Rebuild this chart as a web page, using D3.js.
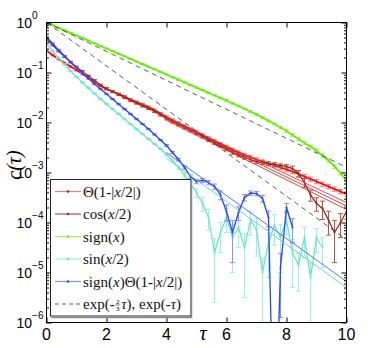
<!DOCTYPE html>
<html>
<head>
<meta charset="utf-8">
<script src="https://cdn.jsdelivr.net/npm/d3@7"></script>
<style>
body { margin: 0; background: #fff; }
svg { display: block; }
</style>
</head>
<body>
<div id="chart"></div>
<script>
// lag times
const tau = [0,0.2,0.4,0.6,0.8,1,1.2,1.4,1.6,1.8,
             2,2.2,2.4,2.6,2.8,3,3.2,3.4,3.6,3.8,
             4,4.2,4.4,4.6,4.8,5,5.2,5.4,5.6,5.8,
             6,6.2,6.4,6.6,6.8,7,7.2,7.4,7.6,7.8,
             8,8.2,8.4,8.6,8.8,9,9.2,9.4,9.6,9.8,10];

// Θ(1-|x/2|)
const thetaVals = [0.275,0.224,0.186,0.155,0.132,0.112,0.0933,0.0776,0.0646,0.0537,
                   0.0468,0.0417,0.0372,0.0331,0.0288,0.0257,0.0229,0.0204,0.0178,0.0151,
                   0.0129,0.0112,0.00977,0.00851,0.00741,0.00646,0.00562,0.00490,0.00427,0.00372,
                   0.00324,0.00282,0.00251,0.00224,0.00204,0.00182,0.00166,0.00151,0.00138,0.00126,
                   0.00115,0.00105,0.000933,0.000832,0.000741,0.000661,0.000589,0.000525,0.000468,0.000417,
                   0.000372];
const thetaErr = [0.04,0.04,0.04,0.04,0.04,0.04,0.04,0.04,0.04,0.04,
                  0.05,0.05,0.05,0.05,0.05,0.05,0.05,0.05,0.05,0.05,
                  0.06,0.06,0.06,0.06,0.06,0.06,0.06,0.06,0.06,0.06,
                  0.08,0.08,0.08,0.08,0.08,0.08,0.08,0.08,0.08,0.08,
                  0.1,0.1,0.1,0.1,0.1,0.1,0.1,0.1,0.1,0.1,0.1];

// cos(x/2)
const cosVals = [0.468,0.355,0.269,0.209,0.162,0.129,0.105,0.0851,0.0692,0.0562,
                 0.0479,0.0417,0.0363,0.0316,0.0275,0.0245,0.0214,0.0191,0.0166,0.0141,
                 0.0120,0.0105,0.00912,0.00794,0.00692,0.00603,0.00525,0.00447,0.00389,0.00339,
                 0.00295,0.00251,0.00224,0.00200,0.00182,0.00166,0.00158,0.00151,0.00145,0.00138,
                 0.00132,0.00120,0.000955,0.000631,0.000355,0.000240,0.000191,0.000112,0.0000631,0.0001,
                 0.000166];
const cosErr = [0.04,0.04,0.04,0.04,0.04,0.04,0.04,0.04,0.04,0.04,
                0.05,0.05,0.05,0.05,0.05,0.05,0.05,0.05,0.05,0.05,
                0.06,0.06,0.06,0.06,0.06,0.06,0.06,0.06,0.06,0.06,
                0.08,0.08,0.08,0.08,0.08,0.08,0.08,0.08,0.08,0.08,
                0.1,0.12,0.15,0.2,0.25,0.3,0.4,0.5,0.75,0.5,0.3];

// sign(x)
const signVals = [1.0,0.887,0.787,0.698,0.619,0.550,0.488,0.433,0.384,0.340,
                  0.302,0.268,0.238,0.211,0.187,0.166,0.147,0.131,0.116,0.103,
                  0.0912,0.0809,0.0718,0.0637,0.0565,0.0501,0.0445,0.0394,0.0350,0.0310,
                  0.0275,0.0243,0.0214,0.0188,0.0166,0.0145,0.0126,0.0108,0.00933,0.00794,
                  0.00676,0.00562,0.00468,0.00389,0.00331,0.00275,0.00219,0.00174,0.00132,0.000977,
                  0.000692];
const signErr = [0.02,0.02,0.02,0.02,0.02,0.02,0.02,0.02,0.02,0.02,
                 0.02,0.02,0.02,0.02,0.02,0.02,0.02,0.02,0.02,0.02,
                 0.03,0.03,0.03,0.03,0.03,0.03,0.03,0.03,0.03,0.03,
                 0.04,0.04,0.04,0.04,0.04,0.04,0.04,0.04,0.04,0.04,
                 0.06,0.06,0.06,0.06,0.06,0.08,0.08,0.08,0.08,0.08,0.08];

// sin(x/2)
const sinVals = [0.380,0.269,0.195,0.145,0.107,0.0813,0.0631,0.0490,0.0380,0.0295,
                 0.0234,0.0186,0.0148,0.0117,0.00933,0.00741,0.00589,0.00468,0.00372,0.00295,
                 0.00229,0.00174,0.00126,0.000891,0.000603,0.000398,0.000240,0.000126,0.0000251,0.0000631,
                 0.000126,0.0000501,0.0000794,0.0000316,0.000112,0.0000708,0.00001,0.0000398,0.0000891,0.0000501,
                 0.000112,0.0000251,0.0000141,0.0000501,0.00000794,0.0000501,0.0000316,null,null,null,
                 null];
const sinErr = [0.03,0.03,0.03,0.03,0.03,0.03,0.03,0.03,0.03,0.03,
                0.03,0.03,0.03,0.03,0.03,0.03,0.03,0.03,0.03,0.03,
                0.05,0.06,0.08,0.1,0.15,0.2,0.3,0.45,0.9,0.6,
                0.5,0.8,0.6,0.9,0.5,0.7,0.9,0.8,0.6,0.8,
                0.5,0.8,0.7,0.6,0.9,0.5,0.6,0,0,0,0];

// sign(x)Θ(1-|x/2|)   (1e-9 = crosses zero)
const mixVals = [0.513,0.380,0.282,0.214,0.162,0.126,0.0977,0.0759,0.0589,0.0468,
                 0.0372,0.0295,0.0234,0.0186,0.0148,0.0117,0.00933,0.00741,0.00575,0.00447,
                 0.00347,0.00251,0.00182,0.00126,0.000832,0.000661,0.000692,0.000631,0.000525,0.000355,
                 0.000166,0.0000631,0.000158,0.000316,0.000389,0.000380,0.000302,0.000126,1e-9,0.0000126,
                 0.000200,0.0000794,null,null,null,null,null,null,null,null,
                 null];
const mixErr = [0.03,0.03,0.03,0.03,0.03,0.03,0.03,0.03,0.03,0.03,
                0.03,0.03,0.03,0.03,0.03,0.03,0.03,0.03,0.03,0.03,
                0.04,0.05,0.06,0.07,0.08,0.1,0.1,0.1,0.12,0.2,
                0.35,0.75,0.3,0.15,0.1,0.1,0.15,0.35,0,0.9,
                0.2,0.5,0,0,0,0,0,0,0,0,0];

// straight fits (start, end)
const fitTau = [4, 10];
const thetaFitA = [0.0126, 0.000251];
const thetaFitB = [0.0117, 0.000214];
const cosFit = [0.0110, 0.000182];
const mixFit = [0.00251, 0.00000661];
const sinFit = [0.00191, 0.00000501];

// exp(-2/3 tau), exp(-tau)
const refTau = [0, 10];
const expSlow = [1, 0.00127];
const expFast = [1, 0.0000454];

const xTicks = [0, 2, 4, 6, 8, 10];
const yDecades = [1, 1e-1, 1e-2, 1e-3, 1e-4, 1e-5, 1e-6];
const yExps = ["0", "\u22121", "\u22122", "\u22123", "\u22124", "\u22125", "\u22126"];

const width = 382, height = 348;
const svg = d3.select("#chart").append("svg")
    .attr("width", width)
    .attr("height", height);

const x = d3.scaleLinear().domain([0, 10]).range([46.5, 346.5]);
const y = d3.scaleLog().domain([1, 1e-6]).range([22.5, 322.5]);
const yPos = v => v > 0 ? y(v) : 700;

svg.append("clipPath").attr("id", "plotclip")
    .append("rect").attr("x", 46.5).attr("y", 22.5).attr("width", 300).attr("height", 300);

const plot = svg.append("g").attr("clip-path", "url(#plotclip)");

const series = [
    { vals: thetaVals, err: thetaErr, line: "#ff0000", bar: "#ff7a7a", w: 1.6 },
    { vals: cosVals,   err: cosErr,   line: "#962818", bar: "#b85442", w: 1.3 },
    { vals: signVals,  err: signErr,  line: "#66f000", bar: "#9ff55a", w: 1.8 },
    { vals: sinVals,   err: sinErr,   line: "#5fe6c6", bar: "#96f4de", w: 1.2 },
    { vals: mixVals,   err: mixErr,   line: "#2442ff", bar: "#8090ff", w: 1.3 }
];

function drawSeries(s) {
    const g = plot.append("g");
    const pts = tau.map((t, i) => ({ t: t, v: s.vals[i], e: s.err[i] }));
    const good = pts.filter(d => d.v != null && d.v > 1e-8);
    const bars = good.filter(d => d.e > 0);

    g.selectAll(".eb").data(bars).enter().append("line")
        .attr("x1", d => x(d.t)).attr("x2", d => x(d.t))
        .attr("y1", d => yPos(d.v * (1 + d.e)))
        .attr("y2", d => yPos(d.v * (1 - d.e)))
        .attr("stroke", s.bar).attr("stroke-width", 1);
    g.selectAll(".capt").data(bars).enter().append("line")
        .attr("x1", d => x(d.t) - 2.5).attr("x2", d => x(d.t) + 2.5)
        .attr("y1", d => yPos(d.v * (1 + d.e))).attr("y2", d => yPos(d.v * (1 + d.e)))
        .attr("stroke", s.bar).attr("stroke-width", 1);
    g.selectAll(".capb").data(bars.filter(d => d.e < 1)).enter().append("line")
        .attr("x1", d => x(d.t) - 2.5).attr("x2", d => x(d.t) + 2.5)
        .attr("y1", d => yPos(d.v * (1 - d.e))).attr("y2", d => yPos(d.v * (1 - d.e)))
        .attr("stroke", s.bar).attr("stroke-width", 1);

    const line = d3.line()
        .defined(d => d.v != null)
        .x(d => x(d.t))
        .y(d => yPos(d.v));
    g.append("path").datum(pts)
        .attr("d", line)
        .attr("fill", "none")
        .attr("stroke", s.line)
        .attr("stroke-width", s.w);

    g.selectAll(".dot").data(good).enter().append("circle")
        .attr("cx", d => x(d.t)).attr("cy", d => yPos(d.v))
        .attr("r", 1).attr("fill", s.line);
}
series.forEach(drawSeries);

// fits
const fits = [
    { vals: thetaFitA, color: "#ff3030" },
    { vals: thetaFitB, color: "#e02a2a" },
    { vals: cosFit,    color: "#b83a2a" },
    { vals: sinFit,    color: "#55d8bd" },
    { vals: mixFit,    color: "#4762ff" }
];
fits.forEach(f => {
    plot.append("line")
        .attr("x1", x(fitTau[0])).attr("y1", y(f.vals[0]))
        .attr("x2", x(fitTau[1])).attr("y2", y(f.vals[1]))
        .attr("stroke", f.color).attr("stroke-width", 0.9);
});

// dashed references
[expSlow, expFast].forEach(v => {
    plot.append("line")
        .attr("x1", x(refTau[0])).attr("y1", y(v[0]))
        .attr("x2", x(refTau[1])).attr("y2", y(v[1]))
        .attr("stroke", "#333").attr("stroke-width", 0.8)
        .attr("stroke-dasharray", "5,4");
});

// ticks on all four sides
const minorTicks = [];
yDecades.slice(1).forEach(d => {
    for (let k = 2; k <= 9; k++) minorTicks.push(d * k);
});

function tickAxis(axis, tr) {
    svg.append("g").attr("transform", tr)
        .call(axis)
        .call(g => g.select(".domain").remove())
        .call(g => g.selectAll("line").attr("stroke", "#000"));
}
tickAxis(d3.axisLeft(y).tickValues(yDecades).tickSize(-5).tickFormat(""), "translate(46.5,0)");
tickAxis(d3.axisLeft(y).tickValues(minorTicks).tickSize(-2.5).tickFormat(""), "translate(46.5,0)");
tickAxis(d3.axisRight(y).tickValues(yDecades).tickSize(-5).tickFormat(""), "translate(346.5,0)");
tickAxis(d3.axisRight(y).tickValues(minorTicks).tickSize(-2.5).tickFormat(""), "translate(346.5,0)");
tickAxis(d3.axisBottom(x).tickValues(xTicks).tickSize(-5).tickFormat(""), "translate(0,322.5)");
tickAxis(d3.axisTop(x).tickValues(xTicks).tickSize(-5).tickFormat(""), "translate(0,22.5)");

svg.append("rect")
    .attr("x", 46.5).attr("y", 22.5).attr("width", 300).attr("height", 300)
    .attr("fill", "none").attr("stroke", "#000").attr("stroke-width", 1);

// tick labels
const labelFont = "'Liberation Sans', Arial, Helvetica, sans-serif";
yDecades.forEach((d, i) => {
    const t = svg.append("text")
        .attr("x", 16.5).attr("y", y(d) + 5)
        .attr("font-family", labelFont).attr("font-size", 14)
        .attr("fill", "#000")
        .text("10");
    t.append("tspan").attr("dy", -8.5).attr("font-size", 10).text(yExps[i]);
});
svg.selectAll(".xl").data(xTicks).enter().append("text")
    .attr("x", d => x(d)).attr("y", 340)
    .attr("text-anchor", "middle")
    .attr("font-family", labelFont).attr("font-size", 16)
    .attr("fill", "#000")
    .text(d => d);

const serif = "'Liberation Serif', 'Times New Roman', serif";
svg.append("text")
    .attr("transform", "translate(21,165) rotate(-90)")
    .attr("text-anchor", "middle")
    .attr("font-family", serif).attr("font-style", "italic").attr("font-size", 20)
    .text("c(\u03c4)");
svg.append("text")
    .attr("x", 203).attr("y", 340)
    .attr("text-anchor", "middle")
    .attr("font-family", serif).attr("font-style", "italic").attr("font-size", 20)
    .text("\u03c4");

// legend
const leg = svg.append("g");
leg.append("rect")
    .attr("x", 50.5).attr("y", 179.5).attr("width", 140.5).attr("height", 136.5)
    .attr("fill", "#fff").attr("stroke", "#222").attr("stroke-width", 1);
leg.append("path")
    .attr("d", "M191.5,180.5V317.5H51.5")
    .attr("fill", "none").attr("stroke", "#8a8a8a").attr("stroke-width", 1.5);

const legendItems = [
    { color: series[0], parts: [["\u0398(1-|"], ["x", 1], ["/2|)"]] },
    { color: series[1], parts: [["cos("], ["x", 1], ["/2)"]] },
    { color: series[2], parts: [["sign("], ["x", 1], [")"]] },
    { color: series[3], parts: [["sin("], ["x", 1], ["/2)"]] },
    { color: series[4], parts: [["sign("], ["x", 1], [")\u0398(1-|"], ["x", 1], ["/2|)"]] }
];
legendItems.forEach((it, i) => {
    const cy = 191.5 + 22.5 * i;
    leg.append("line").attr("x1", 55).attr("x2", 81).attr("y1", cy).attr("y2", cy)
        .attr("stroke", it.color.bar).attr("stroke-width", 1.2);
    leg.append("circle").attr("cx", 68).attr("cy", cy).attr("r", 1.2).attr("fill", it.color.line);
    const t = leg.append("text").attr("x", 83).attr("y", cy + 5)
        .attr("font-family", serif).attr("font-size", 15).attr("fill", "#111");
    it.parts.forEach(p => {
        t.append("tspan").attr("font-style", p[1] ? "italic" : "normal").text(p[0]);
    });
});

// dashed legend entry with fraction
const cy6 = 191.5 + 22.5 * 5;
leg.append("line").attr("x1", 55).attr("x2", 81).attr("y1", cy6).attr("y2", cy6)
    .attr("stroke", "#333").attr("stroke-width", 0.8).attr("stroke-dasharray", "4,3");
const e1 = leg.append("text").attr("x", 83).attr("y", cy6 + 5)
    .attr("font-family", serif).attr("font-size", 15).attr("fill", "#111")
    .text("exp(-");
const w1 = e1.node().getComputedTextLength();
const fx = 83 + w1 + 0.5;
leg.append("text").attr("x", fx + 2.5).attr("y", cy6 - 0.5).attr("text-anchor", "middle")
    .attr("font-family", serif).attr("font-size", 7).text("2");
leg.append("text").attr("x", fx + 2.5).attr("y", cy6 + 6.8).attr("text-anchor", "middle")
    .attr("font-family", serif).attr("font-size", 7).text("3");
leg.append("line").attr("x1", fx).attr("x2", fx + 5).attr("y1", cy6 + 0.9).attr("y2", cy6 + 0.9)
    .attr("stroke", "#111").attr("stroke-width", 0.5);
const e2 = leg.append("text").attr("x", fx + 6).attr("y", cy6 + 5)
    .attr("font-family", serif).attr("font-size", 15).attr("fill", "#111");
e2.append("tspan").attr("font-style", "italic").text("\u03c4");
e2.append("tspan").text("), exp(-");
e2.append("tspan").attr("font-style", "italic").text("\u03c4");
e2.append("tspan").text(")");
</script>
</body>
</html>
